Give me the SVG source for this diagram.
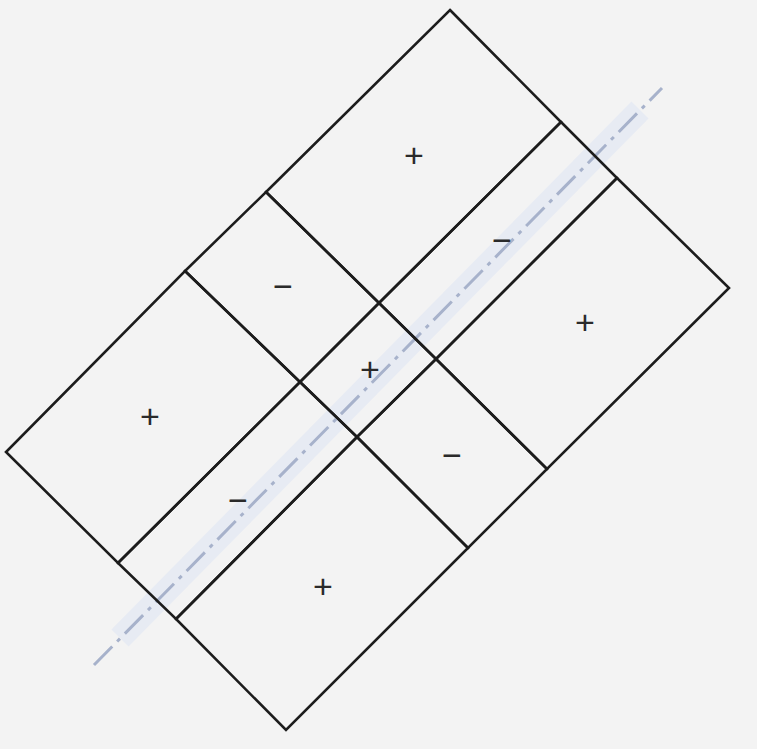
<svg xmlns="http://www.w3.org/2000/svg" width="757" height="749" viewBox="0 0 757 749">
<style>
.cell{fill:none;stroke:#1c1c1c;stroke-width:2.6;stroke-linejoin:miter}
.lbl{font-family:"Liberation Sans",Arial,sans-serif;font-size:34px;fill:#2a2a2a;text-anchor:middle;dominant-baseline:central}
.band{stroke:#e4e9f3;stroke-width:24;stroke-linecap:butt;opacity:0.75}
.axis{stroke:#a7b2cb;stroke-width:3;stroke-dasharray:26 7 4 7;fill:none}
</style>
<rect width="757" height="749" fill="#f3f3f3"/>
<g id="axis">
<line class="band" x1="120" y1="638" x2="640" y2="110"/>
<line class="axis" x1="94" y1="665" x2="662" y2="88"/>
</g>
<g id="cell-r1c1"><polygon class="cell" points="450,10 561,122 379,303 266,192"/><text class="lbl" x="414" y="155">+</text></g>
<g id="cell-r1c2"><polygon class="cell" points="561,122 617,178 436,359 379,303"/><text class="lbl" x="502" y="240">−</text></g>
<g id="cell-r1c3"><polygon class="cell" points="617,178 729,288 547,469 436,359"/><text class="lbl" x="585" y="322">+</text></g>
<g id="cell-r2c1"><polygon class="cell" points="266,192 379,303 300,382 185,271"/><text class="lbl" x="283" y="286">−</text></g>
<g id="cell-r2c2"><polygon class="cell" points="379,303 436,359 357,437 300,382"/><text class="lbl" x="370" y="369">+</text></g>
<g id="cell-r2c3"><polygon class="cell" points="436,359 547,469 468,548 357,437"/><text class="lbl" x="452" y="455">−</text></g>
<g id="cell-r3c1"><polygon class="cell" points="185,271 300,382 118,563 6,452"/><text class="lbl" x="150" y="416">+</text></g>
<g id="cell-r3c2"><polygon class="cell" points="300,382 357,437 176,619 118,563"/><text class="lbl" x="238" y="500">−</text></g>
<g id="cell-r3c3"><polygon class="cell" points="357,437 468,548 286,730 176,619"/><text class="lbl" x="323" y="586">+</text></g>
</svg>
